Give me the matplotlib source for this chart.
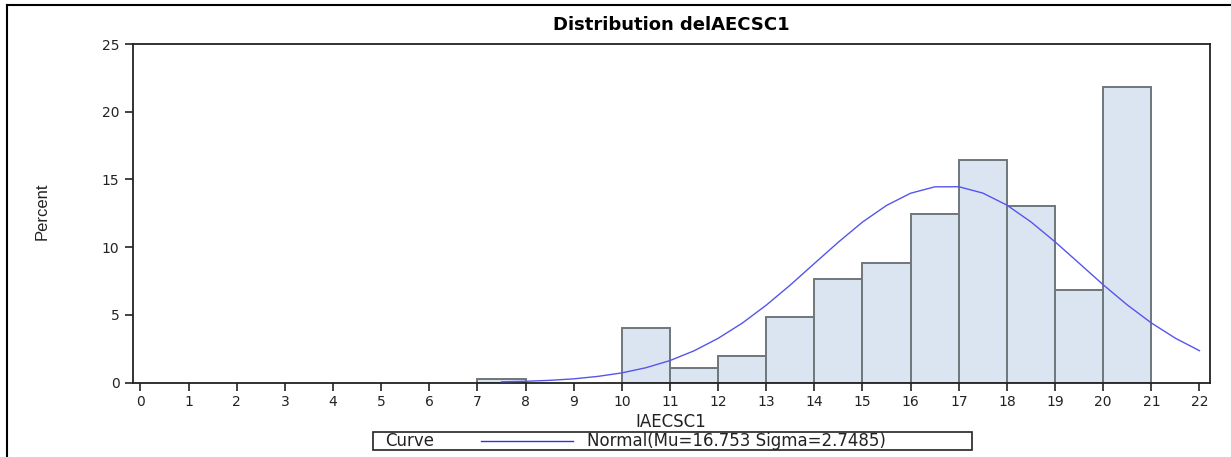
import matplotlib
matplotlib.use("Agg")
import matplotlib.pyplot as plt
from matplotlib.lines import Line2D
from matplotlib.patches import Rectangle

# Histogram bins (left edges, width 1) and percent heights
bin_left = [7, 10, 11, 12, 13, 14, 15, 16, 17, 18, 19, 20]
bin_pct = [0.25, 4.0, 1.1, 1.96, 4.82, 7.62, 8.8, 12.45, 16.46, 13.04, 6.8, 21.86]

# Fitted normal curve
curve_x = [7.5, 8, 8.5, 9, 9.5, 10, 10.5, 11, 11.5, 12, 12.5, 13, 13.5, 14, 14.5,
           15, 15.5, 16, 16.5, 17, 17.5, 18, 18.5, 19, 19.5, 20, 20.5, 21, 21.5, 22]
curve_y = [0.05, 0.09, 0.16, 0.27, 0.45, 0.71, 1.09, 1.62, 2.34, 3.26, 4.38, 5.71,
           7.2, 8.79, 10.37, 11.85, 13.08, 13.98, 14.45, 14.46, 13.99, 13.1, 11.86,
           10.39, 8.81, 7.22, 5.73, 4.4, 3.27, 2.35]

x_ticks = list(range(0, 23))
y_ticks = [0, 5, 10, 15, 20, 25]

plt.rcParams['font.family'] = ['DejaVu Sans']

W, H = 1231, 457
fig = plt.figure(figsize=(12.31, 4.57), dpi=100)
ax = fig.add_axes([0.1078, 0.163, 0.8748, 0.7407])

ax.bar(bin_left, bin_pct, width=1, align='edge', color='#dbe5f1',
       edgecolor='#6f767c', linewidth=1.4, zorder=2)
ax.plot(curve_x, curve_y, color='#5555ee', linewidth=1.0, zorder=3)

ax.set_xlim(-0.16, 22.21)
ax.set_ylim(0, 25)
ax.set_xticks(x_ticks)
ax.set_yticks(y_ticks)
ax.tick_params(axis='both', length=6, width=1.2, labelsize=10, color='#222222',
               labelcolor='#222222')
ax.tick_params(axis='x', pad=3)
for s in ax.spines.values():
    s.set_linewidth(1.3)
    s.set_color('#222222')

ax.set_title("Distribution delAECSC1", fontsize=13, fontweight='bold', pad=10)
ax.set_xlabel("IAECSC1", fontsize=12, labelpad=3, color='#222222')
fig.text(42 / W, 1 - 211 / H, "Percent", rotation=90, ha='center', va='center',
         fontsize=12, family=['Liberation Sans Narrow', 'Liberation Sans'],
         color='#222222')

# legend box at the bottom
fig.patches.append(Rectangle((373 / W, 1 - 450 / H), (972 - 373) / W, 18 / H,
                             transform=fig.transFigure, facecolor='white',
                             edgecolor='#222222', linewidth=1.2))
fig.text(385 / W, 1 - 441 / H, "Curve", fontsize=12, va='center', color='#222222')
fig.lines.append(Line2D([481 / W, 573 / W], [1 - 441 / H, 1 - 441 / H],
                        transform=fig.transFigure, color='#3333dd', linewidth=1.0))
fig.text(587 / W, 1 - 441 / H, "Normal(Mu=16.753 Sigma=2.7485)", fontsize=12,
         va='center', color='#222222')

# outer page frame
fig.lines.append(Line2D([7 / W, 7 / W], [0, 1 - 5 / H],
                        transform=fig.transFigure, color='black', linewidth=1.5))
fig.lines.append(Line2D([7 / W, 1], [1 - 5 / H, 1 - 5 / H],
                        transform=fig.transFigure, color='black', linewidth=1.5))

fig.savefig("out.png", dpi=100)
